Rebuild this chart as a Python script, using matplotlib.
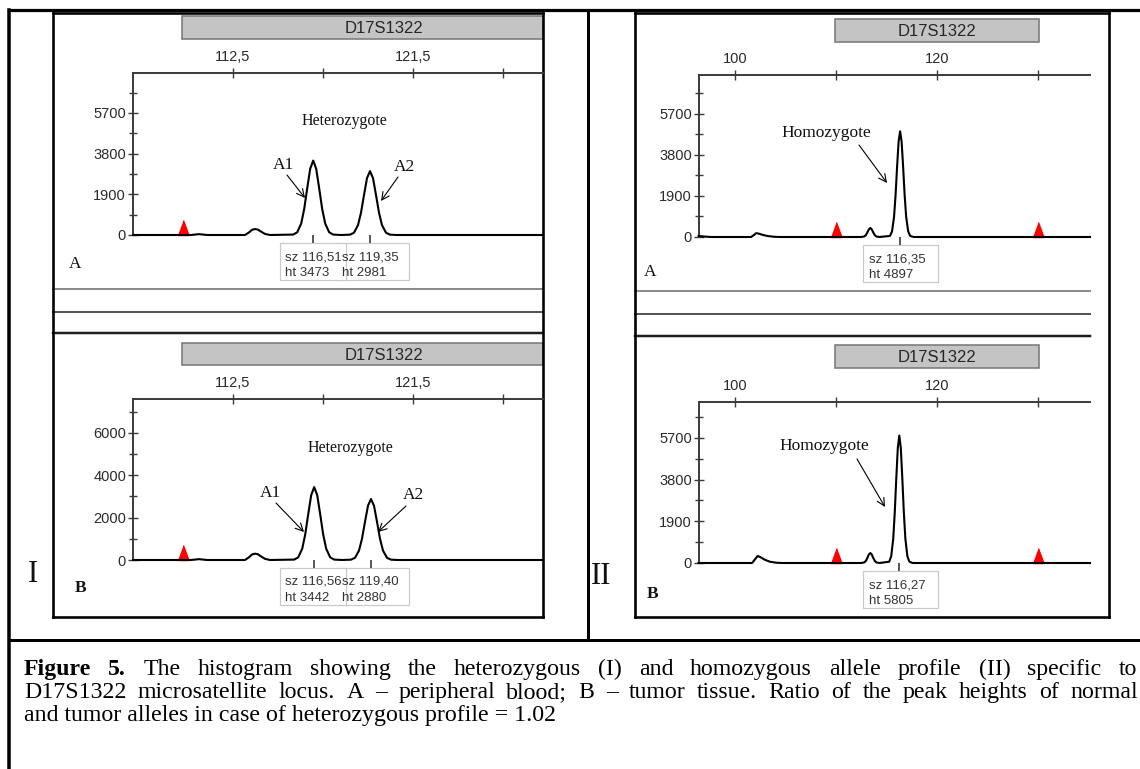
import matplotlib
matplotlib.use("Agg")
import matplotlib.pyplot as plt
from matplotlib.patches import Rectangle

W, H = 1140, 769
SANS = "Liberation Sans"
SERIF = "Liberation Serif"
SPINE = "#3a3a3a"
TXT = "#2a2a2a"

# ---------------- data ----------------
# Panel I (heterozygote), A = peripheral blood, B = tumour tissue
IA_X = [107.5, 110.4, 110.8, 111.2,
        113.1, 113.3, 113.45, 113.6, 113.75, 113.9, 114.1, 114.35,
        115.51, 115.71, 115.91, 116.06, 116.21, 116.36, 116.51, 116.66, 116.81,
        116.96, 117.11, 117.31, 117.51, 117.9,
        118.35, 118.55, 118.75, 118.9, 119.05, 119.2, 119.35, 119.5, 119.65,
        119.8, 119.95, 120.15, 120.35, 120.7, 128.0]
IA_Y = [0, 0, 40, 0,
        0, 120, 240, 280, 250, 160, 50, 0,
        20, 125, 535, 1212, 2174, 3090, 3473, 3090, 2174,
        1212, 535, 125, 20, 0,
        16, 107, 459, 1040, 1866, 2653, 2981, 2653, 1866,
        1040, 459, 107, 16, 0, 0]
IA_SZ = [116.51, 119.35]
IA_HT = [3473, 2981]

IB_X = [107.5, 110.4, 110.8, 111.2,
        113.1, 113.3, 113.45, 113.6, 113.75, 113.9, 114.1, 114.35,
        115.56, 115.76, 115.96, 116.11, 116.26, 116.41, 116.56, 116.71, 116.86,
        117.01, 117.16, 117.36, 117.56, 117.95,
        118.4, 118.6, 118.8, 118.95, 119.1, 119.25, 119.4, 119.55, 119.7,
        119.85, 120.0, 120.2, 120.4, 120.75, 128.0]
IB_Y = [0, 0, 40, 0,
        0, 130, 260, 300, 270, 170, 55, 0,
        19, 124, 530, 1201, 2155, 3063, 3442, 3063, 2155,
        1201, 530, 124, 19, 0,
        16, 104, 444, 1005, 1803, 2563, 2880, 2563, 1803,
        1005, 444, 104, 16, 0, 0]
IB_SZ = [116.56, 119.40]
IB_HT = [3442, 2880]

# Panel II (homozygote)
IIA_X = [96.4, 97.0, 97.6, 101.6, 101.9, 102.1, 102.4, 102.8, 103.3, 103.9, 104.5,
         112.5, 112.8, 112.95, 113.1, 113.25, 113.4, 113.55, 113.7, 113.85, 114.0, 114.3,
         115.35, 115.55, 115.75, 115.9, 116.05, 116.2, 116.35, 116.5, 116.65,
         116.8, 116.95, 117.15, 117.35, 117.7, 135.15]
IIA_Y = [50, 20, 0, 0, 100, 180, 150, 90, 40, 10, 0,
         0, 24, 83, 205, 350, 420, 350, 205, 83, 24, 0,
         49, 260, 935, 1934, 3242, 4417, 4897, 4417, 3242,
         1934, 935, 260, 49, 0, 0]
IIA_SZ = [116.35]
IIA_HT = [4897]

IIB_X = [96.4, 101.7, 102.0, 102.25, 102.55, 102.95, 103.45, 104.05, 104.65,
         112.5, 112.8, 112.95, 113.1, 113.25, 113.4, 113.55, 113.7, 113.85, 114.0, 114.3,
         115.27, 115.47, 115.67, 115.82, 115.97, 116.12, 116.27, 116.42, 116.57,
         116.72, 116.87, 117.07, 117.27, 117.6, 135.15]
IIB_Y = [0, 0, 180, 320, 260, 150, 60, 15, 0,
         0, 26, 90, 222, 381, 456, 381, 222, 90, 26, 0,
         58, 308, 1109, 2293, 3843, 5236, 5805, 5236, 3843,
         2293, 1109, 308, 58, 0, 0]
IIB_SZ = [116.27]
IIB_HT = [5805]

# size-standard (ladder) markers
I_LADDER = [110.0]
II_LADDER = [110.0, 130.0]

# axis ticks
I_XTICKS = [112.5, 121.5]
I_XLABELS = ["112,5", "121,5"]
I_XMINOR = [117.0, 126.0]
II_XTICKS = [100, 120]
II_XLABELS = ["100", "120"]
II_XMINOR = [110, 130]
Y1900_TICKS = [0, 1900, 3800, 5700]
Y1900_MINOR = [950, 2850, 4750, 6650]
Y2000_TICKS = [0, 2000, 4000, 6000]
Y2000_MINOR = [1000, 3000, 5000, 7000]

LOCUS = "D17S1322"
CAPTION_1 = ["Figure", "5.", "The", "histogram", "showing", "the", "heterozygous", "(I)",
             "and", "homozygous", "allele", "profile", "(II)", "specific", "to"]
CAPTION_2 = ("D17S1322 microsatellite locus. A \u2013 peripheral blood; B \u2013 tumor tissue. "
             "Ratio of the peak heights of normal").split()
CAPTION_3 = "and tumor alleles in case of heterozygous profile = 1.02"

plt.rcParams["font.family"] = SANS


def pt(pix):
    return pix * 0.72


fig = plt.figure(figsize=(W / 100, H / 100), dpi=100)
fig.patch.set_facecolor("white")
canvas = fig.add_axes([0, 0, 1, 1])
canvas.set_xlim(0, W)
canvas.set_ylim(H, 0)
canvas.axis("off")


def line(x0, y0, x1, y1, lw, color="black", z=5):
    canvas.plot([x0, x1], [y0, y1], color=color, lw=pt(lw),
                solid_capstyle="projecting", zorder=z)


# ---------------- table / panel frames ----------------
line(9, 10, W + 5, 10, 3.2)
line(9, 10, 9, H + 5, 3.5)
line(587.5, 10, 587.5, 639, 3)
line(9, 639.5, W + 5, 639.5, 3)
for (l, r) in [(53, 543), (634.5, 1108.5)]:
    line(l, 12.5, r, 12.5, 2.6)
    line(l, 12.5, l, 617, 2.6)
    line(r, 12.5, r, 617, 2.6)
    line(l, 617, r, 617, 2.6)

# separators between the A and B screenshots
for (l, r, ys) in [(53, 543, (289, 312, 333)), (634.5, 1090, (291, 314, 336))]:
    line(l, ys[0], r, ys[0], 2, "#8c8c8c", 3)
    line(l, ys[1], r, ys[1], 2, "#555555", 3)
    line(l, ys[2], r, ys[2], 2.5, "#1e1e1e", 3)

# locus bars
for (x0, x1, y0, y1, tx) in [(182, 543, 16, 39, 384), (182, 543, 343, 365, 384),
                             (835, 1039, 19, 42, 937), (835, 1039, 345, 368, 937)]:
    canvas.add_patch(Rectangle((x0, y0), x1 - x0, y1 - y0, facecolor="#c4c4c4",
                               edgecolor="#7a7a7a", lw=pt(1.6), zorder=2))
    canvas.text(tx, (y0 + y1) / 2 + 1, LOCUS, ha="center", va="center",
                fontsize=12, color="#262626", family=SANS, zorder=3)

TRI = [(-0.37, 0), (0.37, 0), (0, 1)]


def trace_axes(left, top, right, base, xlim, ymax, xs, ys, ladder,
               xt, xl, xm, yt, ym):
    ax = fig.add_axes([left / W, 1 - base / H, (right - left) / W, (base - top) / H])
    ax.patch.set_visible(False)
    ax.set_xlim(*xlim)
    ax.set_ylim(0, ymax)
    ax.plot(ladder, [0] * len(ladder), ls="none", marker=TRI, ms=21.5,
            color="#ff0000", mec="#ff0000", clip_on=False, zorder=3)
    ax.plot(xs, ys, color="black", lw=1.5, clip_on=False, zorder=4)
    ax.xaxis.tick_top()
    ax.set_xticks(xt, labels=xl)
    ax.set_xticks(xm, minor=True)
    ax.set_yticks(yt, labels=[str(v) for v in yt])
    ax.set_yticks(ym, minor=True)
    ax.tick_params(axis="x", which="both", direction="inout", length=7, width=1,
                   color=SPINE, pad=3, labelsize=10.5, labelcolor=TXT)
    ax.tick_params(axis="y", which="major", direction="inout", length=7, width=1,
                   color=SPINE, pad=1.5, labelsize=10.5, labelcolor=TXT)
    ax.tick_params(axis="y", which="minor", direction="inout", length=5.5, width=1,
                   color=SPINE)
    for s in ("bottom", "right"):
        ax.spines[s].set_visible(False)
    for s in ("top", "left"):
        ax.spines[s].set_color(SPINE)
        ax.spines[s].set_linewidth(1.4)
    return ax


def peak_labels(ax, base, sizes, heights, box_dx, text_dx, widths):
    boxes, texts = [], []
    for sz, ht, bw in zip(sizes, heights, widths):
        xd, _ = ax.transData.transform((sz, 0))
        ax.plot([sz], [0], ls="none", marker=3, ms=6, mew=1.2, color=SPINE,
                clip_on=False)
        boxes.append((xd + box_dx, bw))
        texts.append((xd + text_dx, "sz " + f"{sz:.2f}".replace(".", ","), f"ht {ht}"))
    for (bx, bw) in reversed(boxes):
        canvas.add_patch(Rectangle((bx, base + 8), bw, 37, facecolor="white",
                                   edgecolor="#c9c9c9", lw=pt(1.2), zorder=2))
    for (tx, s1, s2) in texts:
        canvas.text(tx, base + 25, s1, fontsize=9.5, color="#333333", va="baseline", zorder=3)
        canvas.text(tx, base + 41, s2, fontsize=9.5, color="#333333", va="baseline", zorder=3)


ia = trace_axes(133, 73, 543, 235, (107.5, 128.0), 7560, IA_X, IA_Y, I_LADDER,
                I_XTICKS, I_XLABELS, I_XMINOR, Y1900_TICKS, Y1900_MINOR)
ib = trace_axes(133, 399, 543, 560, (107.5, 128.0), 7600, IB_X, IB_Y, I_LADDER,
                I_XTICKS, I_XLABELS, I_XMINOR, Y2000_TICKS, Y2000_MINOR)
iia = trace_axes(699, 75, 1090, 237, (96.44, 135.15), 7507, IIA_X, IIA_Y, II_LADDER,
                 II_XTICKS, II_XLABELS, II_XMINOR, Y1900_TICKS, Y1900_MINOR)
iib = trace_axes(699, 402, 1090, 563, (96.44, 135.15), 7335, IIB_X, IIB_Y, II_LADDER,
                 II_XTICKS, II_XLABELS, II_XMINOR, Y1900_TICKS, Y1900_MINOR)

peak_labels(ia, 235, IA_SZ, IA_HT, -33, -28.5, [66, 72])
peak_labels(ib, 560, IB_SZ, IB_HT, -34, -29, [66, 72])
peak_labels(iia, 237, IIA_SZ, IIA_HT, -37, -31, [75])
peak_labels(iib, 563, IIB_SZ, IIB_HT, -36, -30, [75])

# ---------------- annotations ----------------
ARROW = dict(arrowstyle="->,head_length=0.5,head_width=0.25", lw=0.8, color="black",
             shrinkA=0, shrinkB=0, mutation_scale=11)


def arrow(x0, y0, x1, y1):
    canvas.annotate("", xy=(x1, y1), xytext=(x0, y0), arrowprops=ARROW, zorder=6)


def serif(x, y, s, size, ha="center", weight="normal"):
    canvas.text(x, y, s, fontsize=size, family=SERIF, ha=ha, va="center",
                fontweight=weight, color="#111111", zorder=6)


serif(344, 121, "Heterozygote", 11.5)
serif(350, 448, "Heterozygote", 11.5)
serif(283, 165, "A1", 12.5)
serif(404, 167, "A2", 12.5)
serif(270, 493, "A1", 12.5)
serif(413, 495, "A2", 12.5)
arrow(287, 175, 305, 198)
arrow(398, 177, 381, 201)
arrow(276, 503, 304, 532)
arrow(406, 506, 378, 532)

serif(781, 133, "Homozygote", 12.5, ha="left")
serif(779, 446, "Homozygote", 12.5, ha="left")
arrow(859, 145, 887, 183)
arrow(857, 459, 885, 507)

serif(75, 264, "A", 12.5)
serif(81, 588, "B", 12.5, weight="bold")
serif(650, 272, "A", 12.5)
serif(653, 594, "B", 12.5, weight="bold")
serif(33, 574, "I", 22)
serif(601, 576, "II", 22)

# ---------------- caption (justified like the journal page) ----------------
renderer = fig.canvas.get_renderer()
CAP_SIZE = 17.2


def justified(words, y, x0, x1, bold=0):
    items = []
    for i, w in enumerate(words):
        t = canvas.text(0, y, w, fontsize=CAP_SIZE, family=SERIF, va="baseline",
                        fontweight="bold" if i < bold else "normal", color="black")
        items.append((t, t.get_window_extent(renderer).width))
    gap = (x1 - x0 - sum(w for _, w in items)) / (len(items) - 1)
    x = x0
    for t, w in items:
        t.set_x(x)
        x += w + gap


justified(CAPTION_1, 675, 24, 1137, bold=2)
justified(CAPTION_2, 698, 24, 1138)
canvas.text(24, 721, CAPTION_3, fontsize=CAP_SIZE, family=SERIF, va="baseline", color="black")

fig.savefig("out.png", dpi=100, facecolor="white")
